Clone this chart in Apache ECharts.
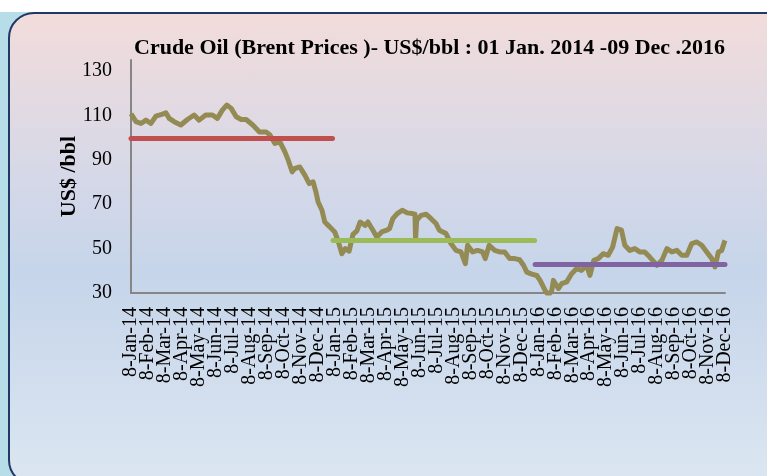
<!DOCTYPE html>
<html>
<head>
<meta charset="utf-8">
<script src="https://cdn.jsdelivr.net/npm/echarts@6/dist/echarts.min.js"></script>
<style>
  html, body { margin: 0; padding: 0; overflow: hidden; background: #fff; }
  .backdrop { position: absolute; left: 0; top: 12px; width: 767px; height: 464px; background: #b7dde8; }
  .panel {
    position: absolute; left: 8px; top: 12px; width: 780px; height: 470px;
    border: 2px solid #1f3864; border-radius: 26px;
    background: linear-gradient(#f2dcdb 0%, #d5d8e8 35%, #c6d5ea 55%, #dce6f2 100%);
  }
  #chart { position: absolute; left: 0; top: 0; width: 767px; height: 476px; }
</style>
</head>
<body>
<div class="backdrop"></div>
<div class="panel"></div>
<div id="chart"></div>
<script>
// monthly tick labels along the bottom
const monthLabels = [
  '8-Jan-14', '8-Feb-14', '8-Mar-14', '8-Apr-14', '8-May-14', '8-Jun-14',
  '8-Jul-14', '8-Aug-14', '8-Sep-14', '8-Oct-14', '8-Nov-14', '8-Dec-14',
  '8-Jan-15', '8-Feb-15', '8-Mar-15', '8-Apr-15', '8-May-15', '8-Jun-15',
  '8-Jul-15', '8-Aug-15', '8-Sep-15', '8-Oct-15', '8-Nov-15', '8-Dec-15',
  '8-Jan-16', '8-Feb-16', '8-Mar-16', '8-Apr-16', '8-May-16', '8-Jun-16',
  '8-Jul-16', '8-Aug-16', '8-Sep-16', '8-Oct-16', '8-Nov-16', '8-Dec-16'
];

// Brent price, US$/bbl
const priceDates = [
  '2014-01-01', '2014-01-10', '2014-01-19', '2014-01-28', '2014-02-06', '2014-02-15',
  '2014-02-27', '2014-03-05', '2014-03-11', '2014-03-20', '2014-04-01', '2014-04-13',
  '2014-04-25', '2014-05-04', '2014-05-16', '2014-05-28', '2014-06-06', '2014-06-15',
  '2014-06-23', '2014-07-01', '2014-07-10', '2014-07-19', '2014-07-28', '2014-08-09',
  '2014-08-21', '2014-09-02', '2014-09-09', '2014-09-18', '2014-09-27', '2014-10-06',
  '2014-10-12', '2014-10-19', '2014-10-24', '2014-11-02', '2014-11-11', '2014-11-19',
  '2014-11-26', '2014-12-01', '2014-12-05', '2014-12-12', '2014-12-17', '2014-12-26',
  '2015-01-04', '2015-01-10', '2015-01-17', '2015-01-23', '2015-01-30', '2015-02-06',
  '2015-02-13', '2015-02-19', '2015-02-28', '2015-03-05', '2015-03-14', '2015-03-21',
  '2015-03-30', '2015-04-08', '2015-04-13', '2015-04-19', '2015-04-27', '2015-05-06',
  '2015-05-15', '2015-05-24', '2015-05-29', '2015-05-30', '2015-06-01', '2015-06-09',
  '2015-06-18', '2015-06-27', '2015-07-06', '2015-07-12', '2015-07-24', '2015-08-02',
  '2015-08-11', '2015-08-20', '2015-08-28', '2015-09-01', '2015-09-10', '2015-09-19',
  '2015-09-28', '2015-10-03', '2015-10-10', '2015-10-20', '2015-10-29', '2015-11-07',
  '2015-11-16', '2015-11-25', '2015-12-04', '2015-12-11', '2015-12-17', '2015-12-26',
  '2016-01-04', '2016-01-10', '2016-01-19', '2016-01-25', '2016-01-31', '2016-02-03',
  '2016-02-12', '2016-02-18', '2016-02-27', '2016-03-07', '2016-03-16', '2016-03-25',
  '2016-04-03', '2016-04-09', '2016-04-16', '2016-04-24', '2016-05-03', '2016-05-12',
  '2016-05-20', '2016-05-28', '2016-06-05', '2016-06-11', '2016-06-20', '2016-06-29',
  '2016-07-08', '2016-07-17', '2016-07-26', '2016-08-08', '2016-08-17', '2016-08-26',
  '2016-09-04', '2016-09-13', '2016-09-22', '2016-10-01', '2016-10-10', '2016-10-19',
  '2016-10-28', '2016-11-06', '2016-11-15', '2016-11-21', '2016-11-27', '2016-12-03',
  '2016-12-09'
];
const prices = [
  110.8, 107.2, 106.4, 107.9, 106.4, 109.7,
  110.6, 111.2, 108.7, 107.2, 105.7, 108.2,
  110.2, 107.9, 110.2, 110.2, 108.7, 112.4,
  114.7, 113.2, 109.4, 108.2, 108.2, 105.7,
  102.6, 102.6, 101.2, 97.4, 98.1, 93.6,
  89.9, 84.6, 86.1, 86.8, 83.1, 79.3,
  80.1, 75.6, 71.0, 67.3, 62.0, 59.8,
  57.5, 53.5, 47.7, 50.0, 48.9, 56.4,
  58.0, 62.0, 60.5, 62.0, 58.3, 55.2,
  57.5, 58.3, 59.0, 63.5, 65.8, 67.3,
  66.1, 65.8, 65.5, 53.7, 62.8, 65.0,
  65.5, 63.5, 61.3, 58.3, 56.8, 52.3,
  49.2, 48.5, 43.2, 51.5, 48.5, 49.2,
  48.5, 45.5, 51.5, 49.2, 48.5, 48.5,
  45.5, 45.5, 45.0, 42.5, 39.4, 38.5,
  37.9, 35.7, 31.2, 29.0, 31.0, 35.7,
  32.0, 34.2, 35.0, 38.7, 41.0, 40.2,
  42.5, 37.9, 44.7, 45.5, 47.7, 47.0,
  50.7, 59.0, 58.3, 51.5, 49.2, 50.0,
  48.5, 48.5, 46.2, 42.5, 44.7, 50.0,
  48.5, 49.2, 47.0, 47.0, 52.3, 53.0,
  51.5, 48.5, 45.5, 41.7, 48.5, 49.2,
  53.7
];

// yearly averages
const avgStart = ['2014-01-01', '2015-01-01', '2016-01-01'];
const avgEnd = ['2014-12-31', '2015-12-31', '2016-12-09'];
const avgValue = [99.6, 53.7, 42.8];
const avgColors = ['#c0504d', '#9bbb59', '#8064a2'];

const serif = '"Liberation Serif", "Times New Roman", serif';

const chart = echarts.init(document.getElementById('chart'));

const avgSeries = avgValue.map((v, i) => ({
  type: 'line',
  xAxisIndex: 1,
  data: [[avgStart[i], v], [avgEnd[i], v]],
  symbol: 'none',
  lineStyle: { color: avgColors[i], width: 5, cap: 'round' },
  z: 3,
  silent: true
}));

chart.setOption({
  backgroundColor: 'transparent',
  animation: false,
  title: {
    text: 'Crude Oil (Brent Prices )- US$/bbl : 01 Jan. 2014 -09 Dec .2016',
    left: 129,
    top: 32,
    textStyle: { fontFamily: serif, fontWeight: 'bold', fontSize: 22, color: '#000' }
  },
  grid: { left: 131, right: 42, top: 60, bottom: 183 },
  xAxis: [
    {
      type: 'category',
      data: monthLabels,
      boundaryGap: false,
      axisLine: { lineStyle: { color: '#868686', width: 2 } },
      axisTick: { show: false },
      axisLabel: {
        interval: 0,
        rotate: 90,
        margin: 14,
        fontFamily: serif,
        fontSize: 20,
        color: '#000'
      },
      splitLine: { show: false }
    },
    {
      type: 'time',
      show: false,
      min: '2014-01-01',
      max: '2016-12-09'
    }
  ],
  yAxis: {
    type: 'value',
    min: 30,
    max: 135,
    interval: 20,
    name: 'US$ /bbl',
    nameLocation: 'middle',
    nameGap: 51,
    nameMoveOverlap: false,
    nameTextStyle: { fontFamily: serif, fontWeight: 'bold', fontSize: 22, color: '#000' },
    axisLine: { show: true, lineStyle: { color: '#868686', width: 2 } },
    axisTick: { show: false },
    splitLine: { show: false },
    axisLabel: {
      margin: 19,
      fontFamily: serif,
      fontSize: 20,
      color: '#000',
      formatter: v => ((v - 30) % 20 === 0 ? String(v) : '')
    }
  },
  series: [
    {
      type: 'line',
      xAxisIndex: 1,
      data: priceDates.map((d, i) => [d, prices[i]]),
      symbol: 'none',
      lineStyle: { color: '#948a54', width: 5, join: 'round' },
      z: 2,
      silent: true
    },
    ...avgSeries
  ]
});
</script>
</body>
</html>
